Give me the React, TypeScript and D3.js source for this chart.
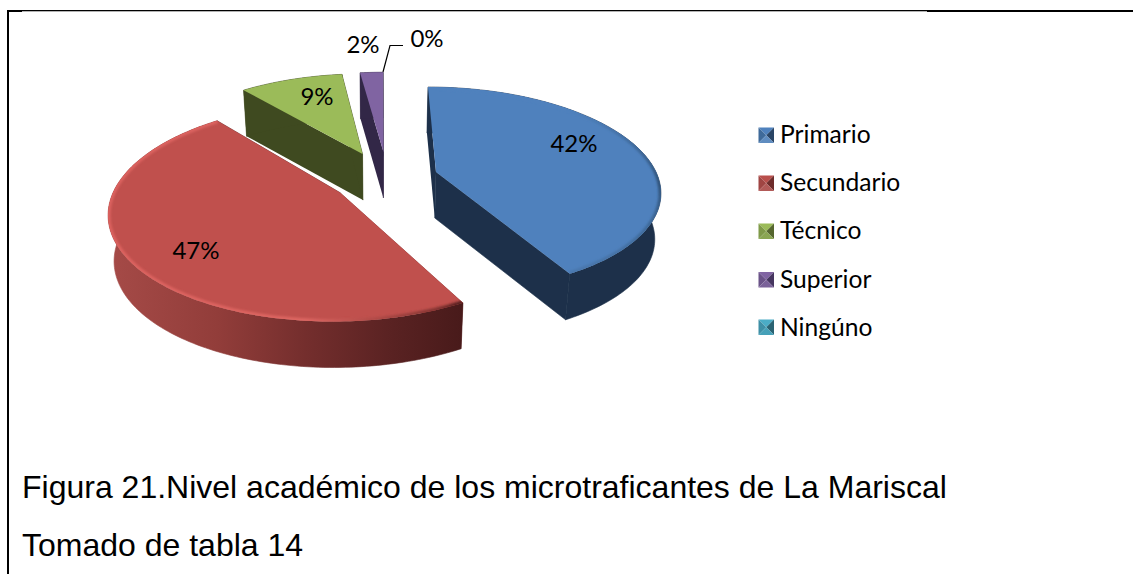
import React from "react";
import * as d3 from "d3";

// ---- data ----
const categories = ["Primario", "Secundario", "Técnico", "Superior", "Ningúno"];
const percentages = [42, 47, 9, 2, 0];
const captionLines = [
  "Figura 21.Nivel académico de los microtraficantes de La Mariscal",
  "Tomado de tabla 14",
];

// ---- style and layout ----
const topColors = ["#4f81bd", "#c0504d", "#9bbb59", "#8064a2", "#4bacc6"];
const sideColors = ["#1d304a", "#6e2b2a", "#3f4a20", "#322747", "#1f5a69"];
const markerShades = [
  ["#4f81bd", "#3f6a9a", "#2a4566", "#5f8cc0"],
  ["#b94f4c", "#a04543", "#6e2c2b", "#b25a58"],
  ["#9bbb59", "#7f9a48", "#55662e", "#8aa652"],
  ["#8064a2", "#6a5388", "#463660", "#7a6299"],
  ["#4bacc6", "#3e8fa6", "#2a6373", "#45a0b8"],
];
const sliceOffsets = [[56, 0], [-38, -45], [-18, 41], [3.6, 46], [3.6, 46]];
const labelPositions = [[574, 142], [196, 249], [317, 95], [363, 43], [427, 37]];
const legendYs = [135, 183, 231, 279.5, 327];
const legendTextYs = [133.5, 181.5, 229.5, 278, 326];

const WIDTH = 1133;
const HEIGHT = 574;
const RADIUS = 220;
const FOCAL = 1318;
const VANISH_X = 380;
const HORIZON_Y = -422;
const CAMERA_H = 594;
const DEPTH = 46;
const BOTTOM_SHRINK = 0.978;
const FONT_CHART = "Lato, 'Open Sans', sans-serif";
const FONT_CAPTION = "'Liberation Sans', Arial, sans-serif";

type Pt = [number, number];

function project(u: number, v: number, bottom: boolean): Pt {
  const s = FOCAL / (FOCAL + v);
  let x = VANISH_X + u * s;
  let y = HORIZON_Y + CAMERA_H * s;
  if (bottom) {
    x = VANISH_X + (x - VANISH_X) * BOTTOM_SHRINK;
    y += DEPTH;
  }
  return [x, y];
}

const toPath = d3.line<Pt>().x((d) => d[0]).y((d) => d[1]);

const arcs = d3
  .pie<number>()
  .sort(null)
  .value((d) => d)(percentages);

function rim(i: number, a0: number, a1: number, bottom: boolean): Pt[] {
  const [ou, ov] = sliceOffsets[i];
  const steps = Math.max(2, Math.ceil(Math.abs(a1 - a0) / 0.02));
  const t = d3.scaleLinear().domain([0, steps]).range([a0, a1]);
  return d3.range(steps + 1).map((k) => {
    const a = t(k);
    return project(ou + RADIUS * Math.sin(a), ov + RADIUS * Math.cos(a), bottom);
  });
}

function apex(i: number, bottom: boolean): Pt {
  return project(sliceOffsets[i][0], sliceOffsets[i][1], bottom);
}

const drawOrder = [2, 3, 0, 1];

function Slice({ i }: { i: number }) {
  const { startAngle: a0, endAngle: a1 } = arcs[i];
  if (a1 - a0 <= 0) return null;
  const topRim = rim(i, a0, a1, false);
  const botRim = rim(i, a0, a1, true);
  const top = toPath([apex(i, false), ...topRim])! + "Z";
  const wallOuter = toPath([...topRim, ...botRim.slice().reverse()])! + "Z";
  const wallStart = toPath([apex(i, false), topRim[0], botRim[0], apex(i, true)])! + "Z";
  const last = topRim.length - 1;
  const wallEnd = toPath([apex(i, false), topRim[last], botRim[last], apex(i, true)])! + "Z";
  const sideFill = i === 1 ? "url(#redSide)" : sideColors[i];
  const rimStroke = i === 1 ? "url(#redRim)" : i === 0 ? "url(#blueRim)" : null;
  return (
    <g>
      <path d={wallStart} fill={sideColors[i]} />
      <path d={wallEnd} fill={sideColors[i]} stroke={sideColors[i]} strokeWidth={0.6} />
      <path d={wallOuter} fill={sideFill} stroke={sideFill} strokeWidth={0.6} />
      <path d={top} fill={topColors[i]} />
      {rimStroke && (
        <g clipPath={`url(#clip${i})`}>
          <path
            d={toPath(topRim)!}
            fill="none"
            stroke={rimStroke}
            strokeWidth={i === 1 ? 5 : 5}
            filter="url(#soft)"
          />
        </g>
      )}
      <clipPath id={`clip${i}`}>
        <path d={top} />
      </clipPath>
    </g>
  );
}

function Marker({ y, shades }: { y: number; shades: string[] }) {
  const x0 = 758.5;
  const x1 = 774;
  const y0 = y - 7.5;
  const y1 = y + 8;
  const cx = (x0 + x1) / 2;
  const cy = (y0 + y1) / 2;
  const tris: Pt[][] = [
    [[x0, y0], [x1, y0], [cx, cy]],
    [[x0, y0], [x0, y1], [cx, cy]],
    [[x1, y0], [x1, y1], [cx, cy]],
    [[x0, y1], [x1, y1], [cx, cy]],
  ];
  return (
    <g>
      {tris.map((t, k) => (
        <path key={k} d={toPath(t)! + "Z"} fill={shades[k]} />
      ))}
    </g>
  );
}

export default function App() {
  return (
    <svg
      width={WIDTH}
      height={HEIGHT}
      viewBox={`0 0 ${WIDTH} ${HEIGHT}`}
      style={{ position: "absolute", left: 0, top: 0, display: "block", background: "#fff" }}
    >
      <defs>
        <linearGradient id="redSide" gradientUnits="userSpaceOnUse" x1="112" x2="464" y1="0" y2="0">
          <stop offset="0" stopColor="#a54a47" />
          <stop offset="0.3" stopColor="#923d3a" />
          <stop offset="0.55" stopColor="#742e2d" />
          <stop offset="0.8" stopColor="#592222" />
          <stop offset="1" stopColor="#481a1a" />
        </linearGradient>
        <linearGradient id="redRim" gradientUnits="userSpaceOnUse" x1="110" x2="464" y1="0" y2="0">
          <stop offset="0" stopColor="#dc625f" />
          <stop offset="0.55" stopColor="#dd6662" />
          <stop offset="0.75" stopColor="#b04a47" />
          <stop offset="0.92" stopColor="#843432" />
          <stop offset="1" stopColor="#4e1c1c" />
        </linearGradient>
        <linearGradient id="blueRim" gradientUnits="userSpaceOnUse" x1="0" x2="0" y1="110" y2="275">
          <stop offset="0" stopColor="#4f81bd" />
          <stop offset="0.45" stopColor="#2f5278" />
          <stop offset="0.7" stopColor="#3f6a9a" />
          <stop offset="1" stopColor="#4a78ae" />
        </linearGradient>
        <filter id="soft" x="-5%" y="-5%" width="110%" height="110%">
          <feGaussianBlur stdDeviation="1.1" />
        </filter>
      </defs>

      {/* page frame */}
      <rect x={7} y={10} width={2} height={HEIGHT - 10} fill="#000" />
      <rect x={7} y={10} width={920} height={1.3} fill="#000" />
      <rect x={7} y={10} width={15} height={2} fill="#000" />
      <rect x={927} y={10} width={WIDTH - 927} height={2} fill="#000" />

      {drawOrder.map((i) => (
        <Slice key={i} i={i} />
      ))}

      {/* leader line for the 0% label */}
      <path d="M383,72 L390,45.5 L403,45.5" fill="none" stroke="#000" strokeWidth={1.2} />

      {percentages.map((p, i) => (
        <text
          key={i}
          x={labelPositions[i][0]}
          y={labelPositions[i][1]}
          textAnchor="middle"
          dominantBaseline="central"
          fontFamily={FONT_CHART}
          fontSize={24}
          fill="#000"
        >
          {p}%
        </text>
      ))}

      {categories.map((c, i) => (
        <g key={c}>
          <Marker y={legendYs[i]} shades={markerShades[i]} />
          <text
            x={780}
            y={legendTextYs[i]}
            dominantBaseline="central"
            fontFamily={FONT_CHART}
            fontSize={24.6}
            fill="#000"
          >
            {c}
          </text>
        </g>
      ))}

      {captionLines.map((line, i) => (
        <text
          key={i}
          x={22}
          y={498 + i * 58}
          fontFamily={FONT_CAPTION}
          fontSize={32}
          fill="#000"
        >
          {line}
        </text>
      ))}
    </svg>
  );
}
